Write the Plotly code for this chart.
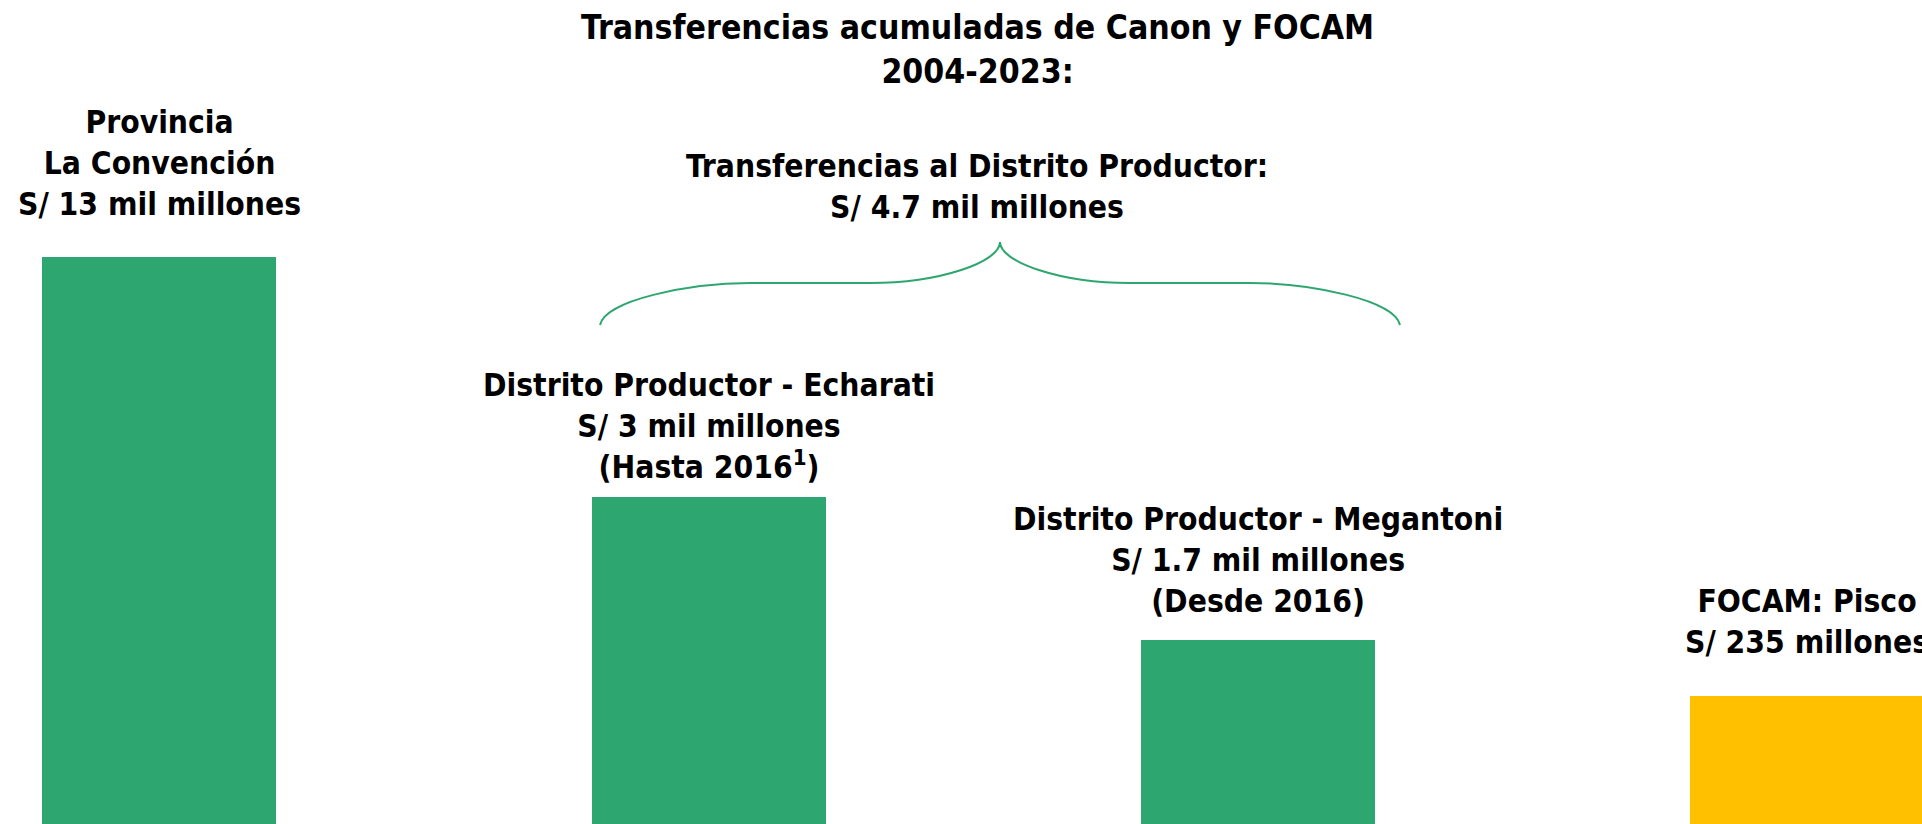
import plotly.graph_objects as go

# ---- data ----
categories = [
    "Provincia La Convención",
    "Distrito Productor - Echarati",
    "Distrito Productor - Megantoni",
    "FOCAM: Pisco",
]
label_names = [
    "Provincia<br>La Convención",
    "Distrito Productor - Echarati",
    "Distrito Productor - Megantoni",
    "FOCAM: Pisco",
]
amount_labels = [
    "S/ 13 mil millones",
    "S/ 3 mil millones",
    "S/ 1.7 mil millones",
    "S/ 235 millones",
]
period_notes = ["", "(Hasta 2016<sup>1</sup>)", "(Desde 2016)", ""]
amounts_mil_millones = [13, 3, 1.7, 0.235]
# visual bar height in the infographic (tallest bar = 100)
bar_display_height = [100, 57.7, 32.5, 22.5]
bar_colors = ["#2EA66F", "#2EA66F", "#2EA66F", "#FFC000"]

title_text = "Transferencias acumuladas de Canon y FOCAM<br>2004-2023:"
subtitle_text = "Transferencias al Distrito Productor:<br>S/ 4.7 mil millones"

# ---- layout constants ----
W, H = 1922, 824
FONT = "Liberation Sans Narrow, DejaVu Sans Condensed, Arial Narrow, sans-serif"
GREEN = "#2EA66F"

fig = go.Figure()
fig.add_trace(go.Bar(
    x=categories,
    y=bar_display_height,
    marker=dict(color=bar_colors, line=dict(width=0)),
    width=0.426,
    customdata=amounts_mil_millones,
    hovertemplate="%{x}: S/ %{customdata} mil millones<extra></extra>",
))

# label block vertical centres (px from top)
label_centres = [163, 426, 560, 621]
for i, cat in enumerate(categories):
    lines = [label_names[i], amount_labels[i]]
    if period_notes[i]:
        lines.append(period_notes[i])
    txt = "<b>" + "<br>".join(lines) + "</b>"
    fig.add_annotation(
        x=cat, xref="x", y=1 - label_centres[i] / H, yref="paper",
        text=txt, showarrow=False, xanchor="center", yanchor="middle",
        align="center", font=dict(family=FONT, size=31.5, color="#000000"),
    )

fig.add_annotation(
    x=977 / W, xref="paper", y=1 - 49 / H, yref="paper",
    text="<b>" + title_text + "</b>", showarrow=False,
    xanchor="center", yanchor="middle", align="center",
    font=dict(family=FONT, size=33.5, color="#000000"),
)
fig.add_annotation(
    x=977 / W, xref="paper", y=1 - 186 / H, yref="paper",
    text="<b>" + subtitle_text + "</b>", showarrow=False,
    xanchor="center", yanchor="middle", align="center",
    font=dict(family=FONT, size=31.5, color="#000000"),
)

# curly brace over the producer-district bars (pixel design -> paper coords)
def P(x, y):
    return f"{x / W:.5f},{1 - y / H:.5f}"

brace = (
    f"M {P(600,325)} C {P(605,300)} {P(690,283)} {P(750,283)} "
    f"L {P(870,283)} C {P(940,283)} {P(1000,262)} {P(1000,242)} "
    f"C {P(1000,262)} {P(1060,283)} {P(1130,283)} "
    f"L {P(1250,283)} C {P(1310,283)} {P(1395,300)} {P(1400,325)}"
)
fig.add_shape(type="path", path=brace, xref="paper", yref="paper",
              line=dict(color=GREEN, width=2))

fig.update_layout(
    width=W, height=H,
    margin=dict(l=0, r=0, t=0, b=0),
    paper_bgcolor="white", plot_bgcolor="white",
    showlegend=False,
    bargap=0,
)
fig.update_xaxes(visible=False, range=[-0.2897, 3.2087])
fig.update_yaxes(visible=False, range=[0, 145.3])

fig.write_html(
    "out.html",
    config={"displayModeBar": False},
    post_script="document.body.style.margin='0';document.body.style.overflow='hidden';",
)
